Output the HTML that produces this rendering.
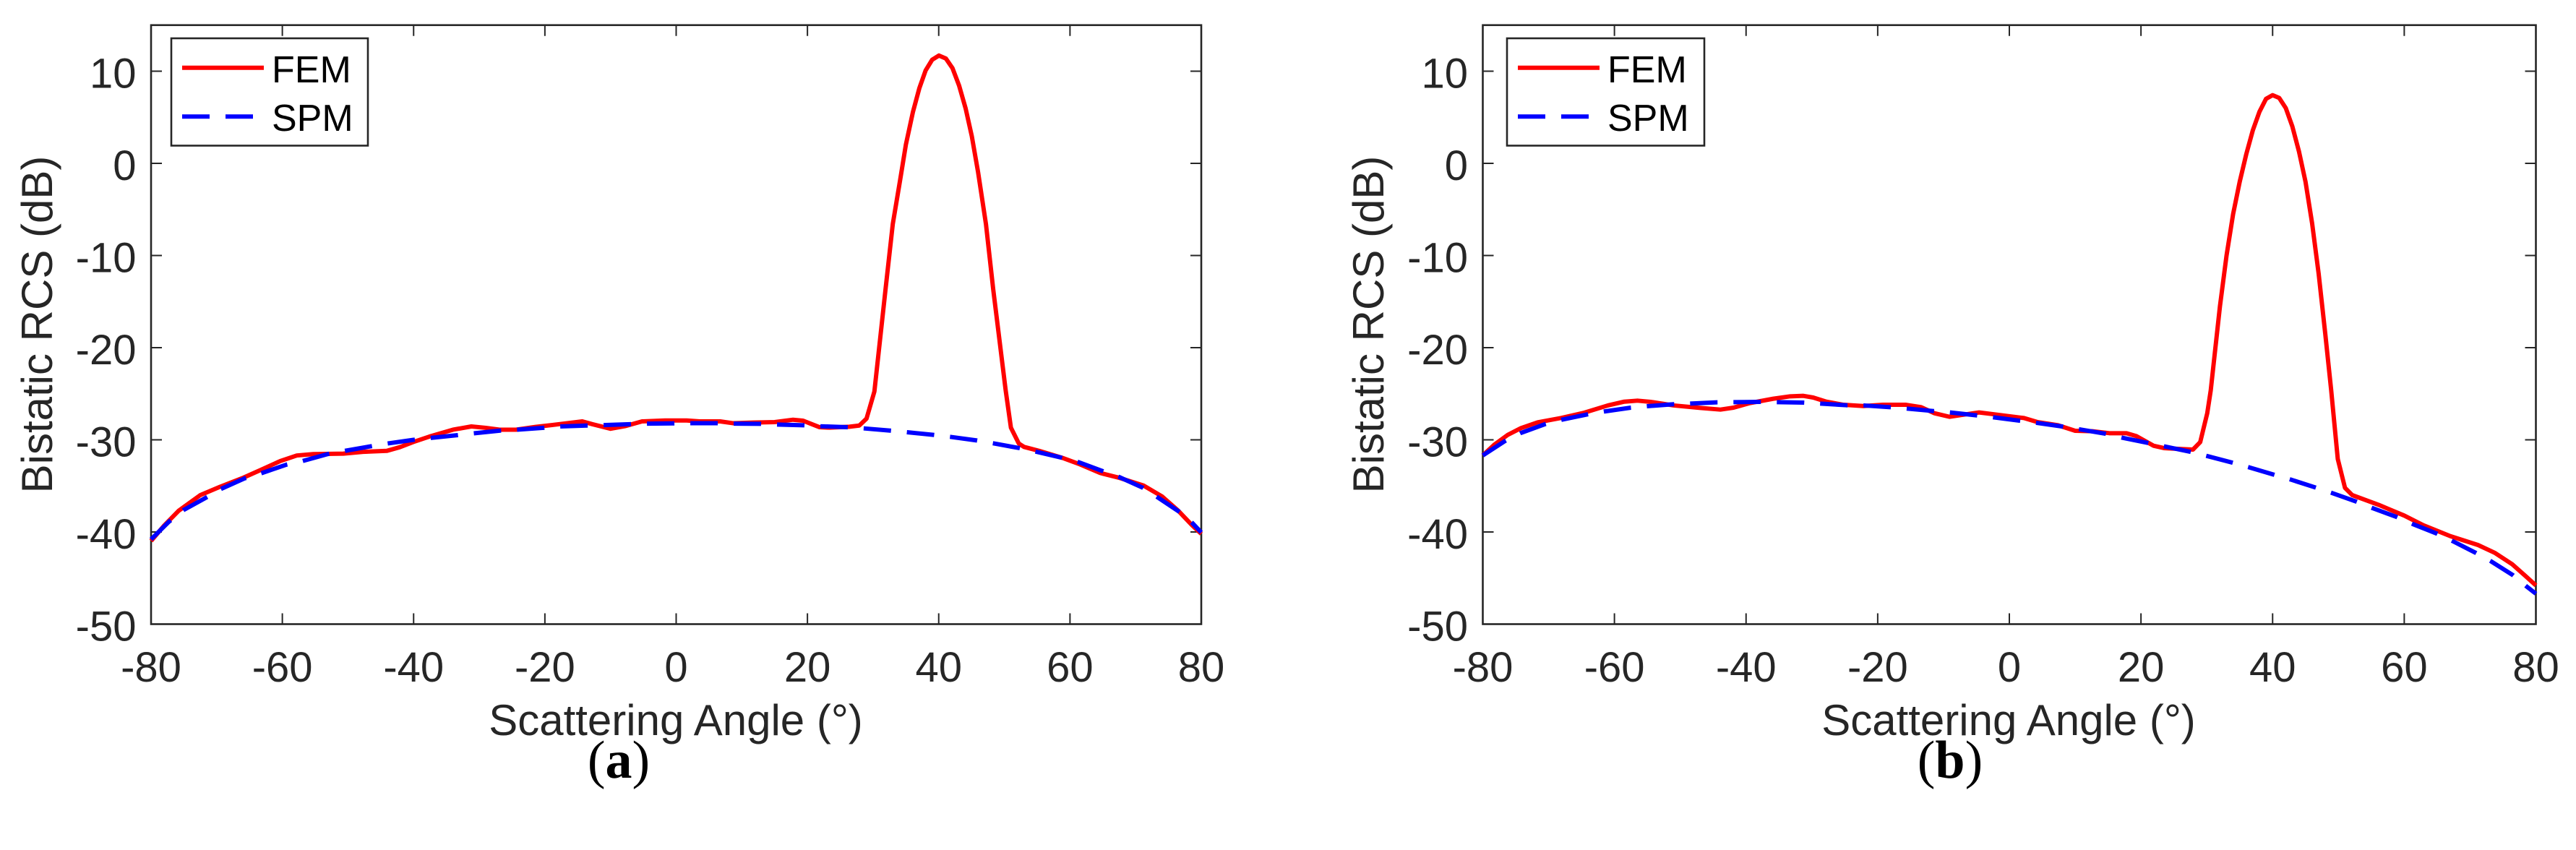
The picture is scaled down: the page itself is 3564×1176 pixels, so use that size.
<!DOCTYPE html>
<html lang="en">
<head>
<meta charset="utf-8">
<title>Bistatic RCS: FEM vs SPM</title>
<style>
html,body{margin:0;padding:0;background:#fff;width:3564px;height:1176px;overflow:hidden}
svg{display:block}
text{font-family:"Liberation Sans",Arial,sans-serif}
.ax-title{font-size:60px;fill:#262626;text-anchor:middle}
.tick-label{font-size:58px;fill:#262626}
.legend-text{font-size:52px;fill:#000}
.caption{font-family:"Liberation Serif",serif;font-size:74px;fill:#000;text-anchor:middle}
.frame{fill:none;stroke:#262626;stroke-width:2.6}
.legend-box{fill:#fff;stroke:#262626;stroke-width:2.6}
</style>
</head>
<body>
<svg id="figure" xmlns="http://www.w3.org/2000/svg" width="3564" height="1176" viewBox="0 0 3564 1176">
  <rect width="3564" height="1176" fill="#fff"/>

  <g id="panel-a">
    <rect class="frame" x="209" y="34.75" width="1453" height="828.75"/>
    <g id="ticks-a"></g>
    <g id="series-a"></g>
    <text class="ax-title" x="935" y="1017">Scattering Angle (°)</text>
    <text class="ax-title" transform="translate(72 449) rotate(-90)">Bistatic RCS (dB)</text>
    <g>
      <rect class="legend-box" x="237" y="53" width="272" height="148.5"/>
      <line x1="252" y1="93.7" x2="365" y2="93.7" stroke="#ff0000" stroke-width="6"/>
      <line x1="252" y1="161.3" x2="350" y2="161.3" stroke="#0000ff" stroke-width="6" stroke-dasharray="38 22"/>
      <text class="legend-text" x="376" y="114">FEM</text>
      <text class="legend-text" x="376" y="181">SPM</text>
    </g>
    <text class="caption" x="856" y="1076">(<tspan font-weight="bold">a</tspan>)</text>
  </g>

  <g id="panel-b">
    <rect class="frame" x="2051.5" y="34.75" width="1457" height="828.75"/>
    <g id="ticks-b"></g>
    <g id="series-b"></g>
    <text class="ax-title" x="2779" y="1017">Scattering Angle (°)</text>
    <text class="ax-title" transform="translate(1914 449) rotate(-90)">Bistatic RCS (dB)</text>
    <g>
      <rect class="legend-box" x="2085" y="53" width="273" height="148.5"/>
      <line x1="2100" y1="93.7" x2="2213" y2="93.7" stroke="#ff0000" stroke-width="6"/>
      <line x1="2100" y1="161.3" x2="2198" y2="161.3" stroke="#0000ff" stroke-width="6" stroke-dasharray="38 22"/>
      <text class="legend-text" x="2224" y="114">FEM</text>
      <text class="legend-text" x="2224" y="181">SPM</text>
    </g>
    <text class="caption" x="2698" y="1076">(<tspan font-weight="bold">b</tspan>)</text>
  </g>
</svg>

<script>
const xTickValues = [-80, -60, -40, -20, 0, 20, 40, 60, 80];
const yTickValues = [-50, -40, -30, -20, -10, 0, 10];
const xTickLabels = ["-80", "-60", "-40", "-20", "0", "20", "40", "60", "80"];
const yTickLabels = ["-50", "-40", "-30", "-20", "-10", "0", "10"];

const femAngleA = [-80,-78,-75.8,-72.5,-69.5,-65.9,-63.4,-60.3,-57.8,-55.3,-50.7,-47.7,-44.1,-42.1,-40.1,-37.6,-34,-31.2,-29,-26.9,-24.4,-21.4,-17.8,-14.3,-12.8,-10,-7.7,-5.2,-1.7,1.6,3.6,6.7,8.7,11.7,15,17.8,19.3,21.85,23.4,26.4,27.9,29,30.2,31.9,33,34.1,35,36.07,37.06,38,39,40.04,41.1,42.1,43.1,44.1,45.04,46,47.2,48.3,50.2,51,52.2,53,55.3,58.8,61.3,64.6,67.4,71.2,74,76.5,78.6,80];
const femDbA = [-40.97,-39.3,-37.7,-36,-35.1,-34.1,-33.3,-32.3,-31.7,-31.55,-31.5,-31.3,-31.2,-30.8,-30.25,-29.65,-28.9,-28.55,-28.7,-28.9,-28.9,-28.6,-28.3,-28,-28.3,-28.8,-28.5,-28,-27.9,-27.9,-28,-28,-28.2,-28.13,-28.08,-27.82,-27.92,-28.63,-28.68,-28.58,-28.45,-27.7,-24.76,-13.65,-6.6,-1.9,2.04,5.57,8.18,10.07,11.24,11.7,11.37,10.33,8.45,5.96,2.95,-0.97,-6.6,-13.65,-24.63,-28.68,-30.4,-30.77,-31.2,-31.95,-32.6,-33.6,-34.1,-34.96,-36.13,-37.7,-39.27,-40.2];

const spmAngleA = [-80,-77.3,-75,-71.7,-69.4,-65.8,-63.3,-59.4,-56.9,-53.1,-50.5,-46.5,-44,-40,-37.5,-33.4,-30.9,-26.8,-24.3,-20.2,-17.7,-13.6,-11.1,-7,-4.5,2.1,6.3,8.8,12.8,15.4,19.4,22,26,28.6,32.6,35.2,39.3,41.8,45.8,48.3,52.3,54.9,58.8,61.2,65,67.5,71.1,73.4,76.7,78.6,80];
const spmDbA = [-40.8,-38.9,-37.6,-36.3,-35.35,-34.2,-33.65,-32.7,-32.3,-31.55,-31.2,-30.7,-30.4,-30,-29.8,-29.5,-29.3,-29,-28.9,-28.7,-28.55,-28.45,-28.4,-28.3,-28.25,-28.2,-28.2,-28.24,-28.26,-28.34,-28.42,-28.53,-28.63,-28.76,-29,-29.18,-29.47,-29.68,-30.07,-30.38,-30.9,-31.3,-31.95,-32.4,-33.4,-34.04,-35.2,-36.26,-37.83,-39,-40.05];

const femAngleB = [-80,-78.2,-76.2,-74.2,-71.66,-68.1,-64.6,-61,-58.5,-56.5,-54.5,-51,-46.95,-43.9,-41.9,-39.4,-35.85,-33.3,-31.3,-29.8,-27.8,-25.2,-22.2,-19.2,-15.7,-13.4,-11.4,-9.1,-7.1,-4.6,-2.2,2.23,4.3,7.4,10,12.6,15.2,17.8,19.3,21.9,23.5,25.6,27.9,29,30.07,30.6,32,33,34,35,36,37,38,39,40,41,42,43,44,45,46,47,48,48.9,49.9,51,52.1,56.1,60,62.9,67,71.2,73.8,76.4,78.4,80];
const femDbB = [-31.69,-30.5,-29.46,-28.73,-28.1,-27.63,-27.06,-26.27,-25.86,-25.75,-25.88,-26.27,-26.54,-26.72,-26.51,-26.01,-25.54,-25.28,-25.23,-25.41,-25.86,-26.2,-26.33,-26.2,-26.2,-26.46,-27.11,-27.5,-27.29,-27.03,-27.24,-27.64,-28.08,-28.42,-29.02,-29.07,-29.28,-29.28,-29.6,-30.64,-30.9,-30.98,-31.06,-30.25,-27.11,-24.63,-15.5,-10,-5.5,-2,1,3.6,5.6,7,7.4,7.1,6,4,1.3,-2,-6.5,-12,-18.5,-24.63,-32.08,-35.22,-36,-37.05,-38.22,-39.27,-40.45,-41.41,-42.28,-43.5,-44.76,-45.8];

const spmAngleB = [-80,-76.6,-74.3,-70.5,-68,-64.1,-61.6,-57.5,-55,-51,-48.5,-44.4,-41.9,-37.9,-35.3,-31.3,-28.7,-24.7,-22.1,-18.1,-15.6,-11.5,-9,-4.9,-2.4,4.15,8,10.7,14.6,17.2,21,23.6,27.5,30.1,33.85,36.3,40.2,42.7,46.5,48.9,52.7,55.1,58.8,61.3,65,67.3,70.9,73.2,76.5,78.5,80];
const spmDbB = [-31.69,-30.12,-29.28,-28.29,-27.82,-27.24,-26.93,-26.51,-26.35,-26.14,-26.07,-25.93,-25.91,-25.88,-25.91,-25.96,-26.07,-26.25,-26.27,-26.46,-26.61,-26.88,-27.03,-27.35,-27.56,-28.16,-28.55,-28.87,-29.34,-29.78,-30.33,-30.72,-31.3,-31.77,-32.47,-32.96,-33.78,-34.3,-35.17,-35.74,-36.7,-37.39,-38.36,-39.14,-40.19,-40.97,-42.28,-43.19,-44.68,-45.86,-46.7];

const SVG_NS = "http://www.w3.org/2000/svg";

function makeXScale(left, right) {
  return function (deg) { return left + (deg + 80) / 160 * (right - left); };
}
function makeYScale(top, bottom) {
  return function (db) { return top + (15 - db) / 65 * (bottom - top); };
}

function drawAxes(groupId, suffix, left, right, top, bottom) {
  const group = document.getElementById(groupId);
  const xs = makeXScale(left, right);
  const ys = makeYScale(top, bottom);
  const tickLen = 15;

  xTickValues.forEach(function (v, i) {
    const px = xs(v);
    const mark = document.createElementNS(SVG_NS, "path");
    mark.setAttribute("d", "M" + px + " " + bottom + "V" + (bottom - tickLen) + "M" + px + " " + top + "V" + (top + tickLen));
    mark.setAttribute("stroke", "#262626");
    mark.setAttribute("stroke-width", "2");
    mark.setAttribute("fill", "none");
    
    
    group.appendChild(mark);

    const label = document.createElementNS(SVG_NS, "text");
    label.setAttribute("class", "tick-label");
    label.setAttribute("x", px);
    label.setAttribute("y", bottom + 79.5);
    label.setAttribute("text-anchor", "middle");
    label.textContent = xTickLabels[i];
    
    
    group.appendChild(label);
  });

  yTickValues.forEach(function (v, i) {
    const py = ys(v);
    const mark = document.createElementNS(SVG_NS, "path");
    mark.setAttribute("d", "M" + left + " " + py + "H" + (left + tickLen) + "M" + right + " " + py + "H" + (right - tickLen));
    mark.setAttribute("stroke", "#262626");
    mark.setAttribute("stroke-width", "2");
    mark.setAttribute("fill", "none");
    
    
    group.appendChild(mark);

    const label = document.createElementNS(SVG_NS, "text");
    label.setAttribute("class", "tick-label");
    label.setAttribute("x", left - 20.5);
    label.setAttribute("y", py + 23);
    label.setAttribute("text-anchor", "end");
    label.textContent = yTickLabels[i];
    
    
    group.appendChild(label);
  });
}

function drawLine(groupId, name, angles, values, left, right, top, bottom, color, dash) {
  const xs = makeXScale(left, right);
  const ys = makeYScale(top, bottom);
  const pts = angles.map(function (a, i) {
    return xs(a).toFixed(2) + "," + ys(values[i]).toFixed(2);
  }).join(" ");
  const line = document.createElementNS(SVG_NS, "polyline");
  line.setAttribute("points", pts);
  line.setAttribute("fill", "none");
  line.setAttribute("stroke", color);
  line.setAttribute("stroke-width", "6");
  line.setAttribute("stroke-linejoin", "round");
  if (dash) {
    line.setAttribute("stroke-dasharray", dash);
  }
  
  
  document.getElementById(groupId).appendChild(line);
}

drawAxes("ticks-a", "a", 209, 1662, 34.75, 863.5);
drawAxes("ticks-b", "b", 2051.5, 3508.5, 34.75, 863.5);

drawLine("series-a", "fem-line-a", femAngleA, femDbA, 209, 1662, 34.75, 863.5, "#ff0000", null);
drawLine("series-a", "spm-line-a", spmAngleA, spmDbA, 209, 1662, 34.75, 863.5, "#0000ff", "38 22");
drawLine("series-b", "fem-line-b", femAngleB, femDbB, 2051.5, 3508.5, 34.75, 863.5, "#ff0000", null);
drawLine("series-b", "spm-line-b", spmAngleB, spmDbB, 2051.5, 3508.5, 34.75, 863.5, "#0000ff", "38 22");
</script>
</body>
</html>
